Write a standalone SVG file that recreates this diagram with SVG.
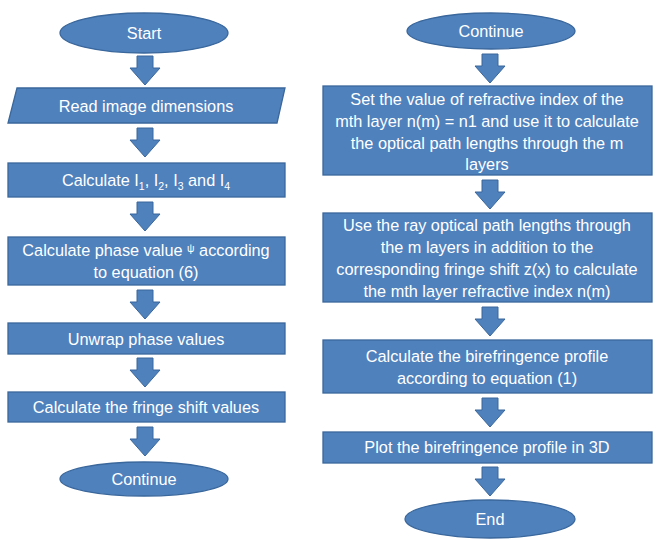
<svg xmlns="http://www.w3.org/2000/svg" width="656" height="540" viewBox="0 0 656 540">
<defs>
<style>
.n{fill:#4F81BD;stroke:#3A679C;stroke-width:1.3}
.a{fill:#4F81BD;stroke:#3A679C;stroke-width:1}
text{font-family:"Liberation Sans",Arial,sans-serif;font-size:16.3px;fill:#FFFFFF;text-anchor:middle}
.s{font-size:10.5px}
</style>
<path id="arr" d="M-8,0 H8 V12 H15 L0,29 L-15,12 H-8 Z"/>
</defs>
<rect width="656" height="540" fill="#FFFFFF"/>
<g id="connectors">
<use href="#arr" class="a" x="145" y="56"/>
<use href="#arr" class="a" x="145" y="128"/>
<use href="#arr" class="a" x="145" y="202"/>
<use href="#arr" class="a" x="145" y="290"/>
<use href="#arr" class="a" x="145" y="358"/>
<use href="#arr" class="a" x="145" y="427"/>
<use href="#arr" class="a" x="490" y="54"/>
<use href="#arr" class="a" x="490" y="180"/>
<use href="#arr" class="a" x="490" y="307"/>
<use href="#arr" class="a" x="490" y="398"/>
<use href="#arr" class="a" x="490" y="467"/>
</g>
<g id="start"><ellipse class="n" cx="144" cy="33" rx="84" ry="20"/><text x="144" y="38.5">Start</text></g>
<g id="read"><path class="n" d="M17,88 H285 L277,123 H8 Z"/><text x="146" y="111.5">Read image dimensions</text></g>
<g id="calcI"><rect class="n" x="8" y="163" width="277" height="34"/><text x="146" y="186">Calculate I<tspan class="s" dy="4">1</tspan><tspan dy="-4">, I</tspan><tspan class="s" dy="4">2</tspan><tspan dy="-4">, I</tspan><tspan class="s" dy="4">3</tspan><tspan dy="-4"> and I</tspan><tspan class="s" dy="4">4</tspan></text></g>
<g id="phase"><rect class="n" x="8" y="237" width="277" height="48"/><text x="146" y="256">Calculate phase value <tspan class="s" dy="-4">ψ</tspan><tspan dy="4"> according</tspan></text><text x="146" y="278">to equation (6)</text></g>
<g id="unwrap"><rect class="n" x="8" y="323" width="277" height="31"/><text x="146" y="344.5">Unwrap phase values</text></g>
<g id="fringe"><rect class="n" x="8" y="392" width="277" height="30"/><text x="146" y="413">Calculate the fringe shift values</text></g>
<g id="continue1"><ellipse class="n" cx="144" cy="479" rx="84" ry="17"/><text x="144" y="485">Continue</text></g>
<g id="continue2"><ellipse class="n" cx="491" cy="31" rx="84" ry="18"/><text x="491" y="37">Continue</text></g>
<g id="setn"><rect class="n" x="323" y="86" width="329" height="89"/><text x="487" y="105">Set the value of refractive index of the</text><text x="487" y="127">mth layer n(m) = n1 and use it to calculate</text><text x="487" y="148.5">the optical path lengths through the m</text><text x="487" y="170">layers</text></g>
<g id="usepath"><rect class="n" x="323" y="213" width="329" height="89"/><text x="487" y="231">Use the ray optical path lengths through</text><text x="487" y="253">the m layers in addition to the</text><text x="487" y="275">corresponding fringe shift z(x)  to calculate</text><text x="487" y="297">the mth layer refractive index n(m)</text></g>
<g id="biref"><rect class="n" x="323" y="340" width="329" height="53"/><text x="487" y="362">Calculate the birefringence profile</text><text x="487" y="384">according to equation (1)</text></g>
<g id="plot"><rect class="n" x="323" y="432" width="329" height="31"/><text x="487" y="453">Plot the birefringence profile in 3D</text></g>
<g id="end"><ellipse class="n" cx="490" cy="519" rx="85" ry="19"/><text x="490" y="525">End</text></g>
</svg>
